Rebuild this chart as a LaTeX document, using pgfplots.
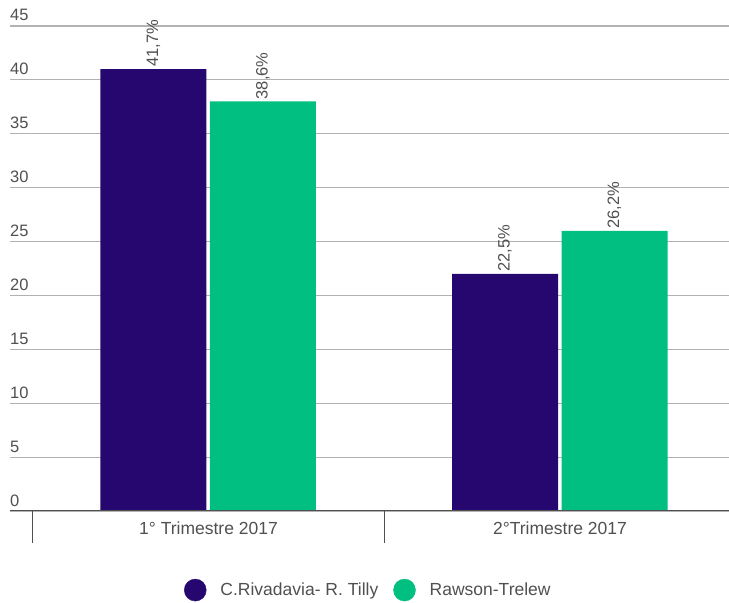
\documentclass[border=0pt]{standalone}
\usepackage{pgfplots}
\pgfplotsset{compat=1.18}
\usepackage{fontspec}
\setmainfont{Liberation Sans}
\definecolor{purp}{RGB}{37,7,111}
\definecolor{grn}{RGB}{0,191,128}
\definecolor{txt}{RGB}{80,80,80}
\definecolor{gridc}{RGB}{178,178,178}
\definecolor{axc}{RGB}{80,80,80}
\newcommand{\lf}{\fontsize{16.5bp}{18bp}\selectfont}
\newcommand{\cf}{\fontsize{17.5bp}{19bp}\selectfont}
\begin{document}
\begin{tikzpicture}
\useasboundingbox (0,0) rectangle (729bp,603bp);
\begin{axis}[
  at={(10bp,92bp)}, anchor=south west,
  scale only axis, width=719bp, height=485bp,
  xmin=-0.5647, xmax=1.4808, ymin=0, ymax=45,
  axis line style={draw=none},
  ybar,
  ytick={0,5,...,45},
  ymajorgrids, grid style={gridc, line width=1.2bp},
  major tick length=0pt,
  xtick pos=bottom,
  yticklabel style={anchor=base west, inner sep=0pt, yshift=5bp, font=\lf, text=txt},
  /pgf/number format/assume math mode=true,
  xtick={0,1}, xticklabels={1° Trimestre 2017, 2°Trimestre 2017},
  xticklabel style={anchor=base, inner sep=0pt, yshift=-23bp, font=\cf, text=txt},
  extra x ticks={-0.5,0.5}, extra x tick labels={},
  extra x tick style={major tick length=32bp, tick align=outside, tick style={draw=axc, line width=1.3bp}},
  point meta=explicit symbolic,
  nodes near coords,
  nodes near coords style={rotate=90, anchor=west, font=\lf, text=txt, inner sep=2bp},
  legend columns=2,
  legend style={at={(axis description cs:0.497,-0.163)}, anchor=center, draw=none, fill=none, font=\cf, text=txt,
    nodes={inner sep=0pt},
    /tikz/every odd column/.append style={column sep=14bp},
    /tikz/every even column/.append style={column sep=15bp}},
]
\addplot[forget plot, fill=purp, draw=none, bar width=106bp, bar shift=-55bp]
  coordinates {(0,41) [41,7\%] (1,22) [22,5\%]};
\addplot[forget plot, fill=grn, draw=none, bar width=106bp, bar shift=54.5bp]
  coordinates {(0,38) [38,6\%] (1,26) [26,2\%]};
\draw[axc, line width=2bp] (rel axis cs:0,0) -- (rel axis cs:1,0);
\addlegendimage{legend image code/.code={\fill[purp] (0bp,0bp) circle (11bp);}}
\addlegendentry{C.Rivadavia- R. Tilly}
\addlegendimage{legend image code/.code={\fill[grn] (0bp,0bp) circle (11bp);}}
\addlegendentry{Rawson-Trelew}
\end{axis}
\end{tikzpicture}
\end{document}
